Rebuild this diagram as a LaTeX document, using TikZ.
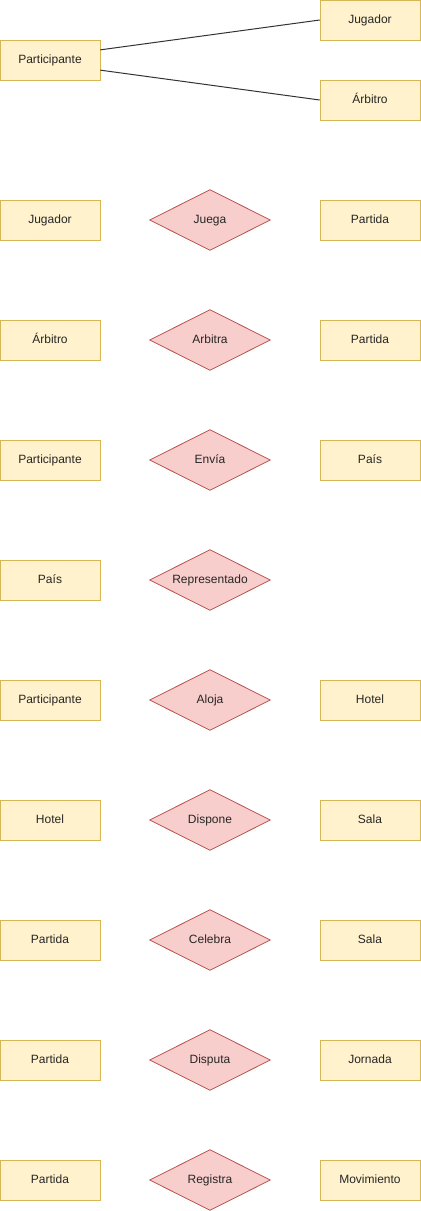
\documentclass[tikz,border=0pt]{standalone}
\usepackage{fontspec}
\setmainfont{Liberation Sans}
\usetikzlibrary{calc,backgrounds}
\definecolor{entfill}{HTML}{FFF2CC}
\definecolor{entdraw}{HTML}{D6B656}
\definecolor{relfill}{HTML}{F8CECC}
\definecolor{reldraw}{HTML}{B85450}
\definecolor{linec}{HTML}{333333}
\begin{document}
\begin{tikzpicture}[x=0.75pt,y=-0.75pt,
  txt/.style={font=\fontsize{9pt}{10pt}\selectfont,text=black!85,text height=6.6pt,text depth=1.8pt},
  ent/.style={txt,draw=entdraw,fill=entfill,minimum width=75pt,minimum height=30pt,inner sep=0pt},
  rel/.style={txt,minimum width=90pt,minimum height=45pt,inner sep=0pt},
  relshape/.style={draw=reldraw,fill=relfill,line width=0.6pt},
  conn/.style={draw=linec,line width=0.75pt}]
\useasboundingbox (0,0) rectangle (421,1211);
% top
\node[ent] (part0) at (50,60) {Participante};
\node[ent] (jug0) at (370,20) {Jugador};
\node[ent] (arb0) at (370,100) {Árbitro};
\coordinate (p1) at ($(part0.north east)!0.25!(part0.south east)$);
\coordinate (p2) at ($(part0.north east)!0.75!(part0.south east)$);
\coordinate (j1) at ($(jug0.north west)!0.5!(jug0.south west)$);
\coordinate (a1) at ($(arb0.north west)!0.5!(arb0.south west)$);
\draw[conn] (p1) -- (j1);
\draw[conn] (p2) -- (a1);
% rows
\node[ent] (l1) at (50,220) {Jugador};
\node[rel] (r1) at (210,220) {Juega};
\node[ent] (e1) at (370,220) {Partida};
\node[ent] (l2) at (50,340) {Árbitro};
\node[rel] (r2) at (210,340) {Arbitra};
\node[ent] (e2) at (370,340) {Partida};
\node[ent] (l3) at (50,460) {Participante};
\node[rel] (r3) at (210,460) {Envía};
\node[ent] (e3) at (370,460) {País};
\node[ent] (l4) at (50,580) {País};
\node[rel] (r4) at (210,580) {Representado};
\node[ent] (l5) at (50,700) {Participante};
\node[rel] (r5) at (210,700) {Aloja};
\node[ent] (e5) at (370,700) {Hotel};
\node[ent] (l6) at (50,820) {Hotel};
\node[rel] (r6) at (210,820) {Dispone};
\node[ent] (e6) at (370,820) {Sala};
\node[ent] (l7) at (50,940) {Partida};
\node[rel] (r7) at (210,940) {Celebra};
\node[ent] (e7) at (370,940) {Sala};
\node[ent] (l8) at (50,1060) {Partida};
\node[rel] (r8) at (210,1060) {Disputa};
\node[ent] (e8) at (370,1060) {Jornada};
\node[ent] (l9) at (50,1180) {Partida};
\node[rel] (r9) at (210,1180) {Registra};
\node[ent] (e9) at (370,1180) {Movimiento};
\begin{scope}[on background layer]
\foreach \r in {r1,r2,r3,r4,r5,r6,r7,r8,r9}
  \filldraw[relshape] (\r.north) -- (\r.east) -- (\r.south) -- (\r.west) -- cycle;
\end{scope}
\end{tikzpicture}
\end{document}
